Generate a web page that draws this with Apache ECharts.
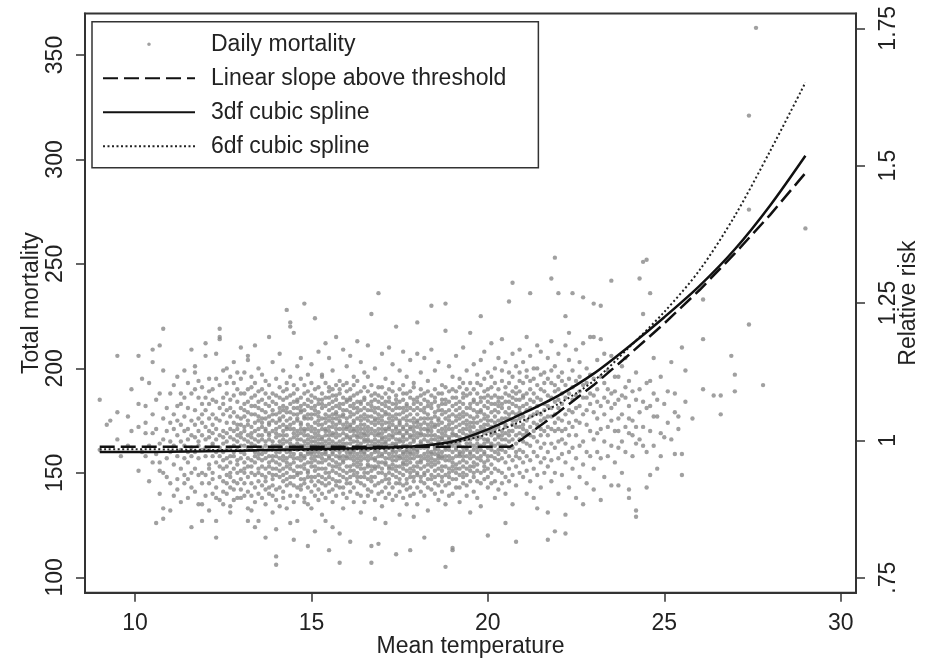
<!DOCTYPE html>
<html>
<head>
<meta charset="utf-8">
<script src="https://cdn.jsdelivr.net/npm/echarts@6/dist/echarts.min.js"></script>
<style>
html,body{margin:0;padding:0;background:#fff;}
#chart{width:926px;height:659px;}
</style>
</head>
<body>
<div id="chart"></div>
<script>
// ---- Data ----
// Daily observations grouped by mean temperature: [temperature, [daily deaths...]]
const coolDays = [
[9.0,[185,161]],[9.2,[173]],[9.3,[175]],[9.5,[206,179,166]],[9.6,[158]],[9.8,[177,163]],[9.9,[170,190]],
[10.1,[206,183,151,172]],[10.2,[160,195]],[10.3,[169,182,174,158]],[10.4,[193,163,146]],
[10.5,[209,203,155,169,178]],[10.6,[185,159,126,171]],[10.7,[211,155,151,140,164,188]],
[10.8,[219,199,150,133,128,176,166]],[10.9,[157,181,170,148]],[11.0,[188,145,132,165,174,160]],
[11.1,[171,192,154,163,139,178]],[11.2,[196,158,147,182,168,175,142]],[11.3,[188,165,152,173,136,161,183]],
[11.4,[199,145,170,157,186,163,149,177]],[11.5,[193,160,138,171,181,155,166,147]],
[11.6,[209,124,175,162,150,188,168,143,158]],[11.7,[198,201,167,152,180,141,173,160,190]],
[11.8,[176,163,149,186,157,170,135,194,165]],[11.9,[127,135,183,161,174,150,168,191,145,178]]
];
const mildDays = [
[12.0,[212,206,172,158,149,186,166,139,180,162]],[12.1,[195,170,154,183,161,145,176,167,189,152,132]],
[12.2,[185,164,140,173,158,190,150,169,178,147,163]],[12.3,[207,127,119,176,160,184,143,166,195,155,171,138]],
[12.4,[219,215,214,168,153,181,137,162,175,148,192,158]],[12.5,[141,170,186,156,164,146,178,199,152,167,183,135,160]],
[12.6,[200,174,149,161,188,140,169,157,180,145,165,193,153]],[12.7,[134,131,177,162,185,150,171,158,196,143,167,181,155,148]],
[12.8,[203,166,152,179,160,142,187,170,146,174,158,193,163,137]],[12.9,[190,173,156,168,145,184,161,177,150,198,165,138,171,154]],
[13.0,[210,138,163,176,151,188,169,157,142,181,167,195,160,147,173]],[13.1,[198,155,170,183,145,163,177,139,159,172,188,152,166,150,180]],
[13.2,[206,204,127,168,153,179,162,190,148,173,157,184,141,165,175,133]],[13.3,[132,191,164,178,150,169,186,156,145,172,161,182,139,167,196,153]],
[13.4,[211,124,174,160,187,149,166,178,155,143,170,193,158,182,163,136]],[13.5,[127,200,168,152,181,162,175,146,189,157,171,140,165,184,150,177,159]],
[13.6,[197,159,176,144,168,185,153,172,162,138,180,149,190,166,156,174]],[13.7,[119,194,170,157,183,148,165,176,142,160,188,152,171,163,135,179,146]],
[13.8,[215,182,155,169,174,143,161,186,150,177,158,166,140,192,168,153,173]],[13.9,[203,163,147,178,158,184,152,170,139,165,188,156,175,144,161,180,149,131]],
[14.0,[110,106,123,187,160,174,149,167,183,155,171,142,178,163,195,152,169,137,158]],
[14.1,[207,176,154,165,186,148,172,160,181,143,168,157,191,151,175,163,134,179,162]],
[14.2,[199,180,156,170,146,185,161,173,152,166,138,189,158,177,149,164,182,141,168]],
[14.3,[228,190,171,150,179,162,144,186,157,168,175,133,160,193,153,172,147,165,181,155]],
[14.4,[222,220,126,183,164,148,176,158,171,139,187,152,166,179,145,161,196,154,173,160]],
[14.5,[217,118,169,181,155,162,174,144,188,151,167,178,136,159,184,148,171,163,192,157]],
[14.6,[127,201,175,157,184,166,149,178,161,143,190,153,170,181,139,164,176,150,168,185]],
[14.7,[205,162,180,147,171,159,186,153,174,142,166,179,158,195,150,169,182,144,163,156,173]],
[14.8,[231,136,188,168,154,177,161,147,183,170,158,192,145,165,176,152,180,163,138,171,157]],
[14.9,[115,197,173,160,185,150,168,176,143,162,189,155,171,148,182,166,159,135,178,164,151]]
];
const temperateDays = [
[15.0,[202,181,159,170,148,176,163,187,153,167,141,193,157,172,160,184,146,178,165,155,133]],
[15.1,[224,122,186,165,151,174,160,182,144,169,178,156,190,148,163,171,139,180,158,167,153]],
[15.2,[208,177,162,149,185,168,155,173,142,191,160,166,152,179,146,183,164,137,170,158,175]],
[15.3,[196,183,164,152,171,145,188,159,176,167,140,181,155,197,162,148,173,166,157,185,130]],
[15.4,[212,170,156,178,161,147,186,165,152,174,138,182,159,168,144,193,163,176,150,171,160,127]],
[15.5,[113,205,189,166,150,177,158,183,145,170,162,191,154,175,141,168,180,157,164,148,186,172]],
[15.6,[124,199,176,160,184,153,169,147,178,163,190,156,172,142,181,165,151,174,159,187,136,168]],
[15.7,[215,187,169,155,178,146,164,182,158,173,139,192,161,176,150,167,185,153,171,144,162,179]],
[15.8,[107,121,194,174,157,183,165,149,171,160,188,143,177,154,168,181,146,163,175,158,190,152]],
[15.9,[209,180,162,148,186,171,155,177,143,166,192,158,173,151,183,164,140,169,178,156,161,133]],
[16.0,[201,172,158,184,150,167,176,145,189,162,153,180,168,138,174,160,185,147,171,157,193,164]],
[16.1,[117,206,185,166,153,177,160,148,182,170,141,190,157,173,164,151,179,167,145,186,159,172]],
[16.2,[196,178,162,187,151,170,156,174,143,165,181,158,192,149,168,175,136,161,183,154,171,160]],
[16.3,[213,168,181,155,172,146,163,188,159,176,150,167,140,184,157,170,162,179,148,194,165,153]],
[16.4,[203,184,160,175,148,167,180,154,171,139,189,158,164,177,145,169,152,183,161,173,156,131]],
[16.5,[198,173,159,186,152,166,178,144,169,157,191,162,148,176,165,181,150,171,136,160,185,168]],
[16.6,[211,189,165,150,177,161,172,142,183,156,168,175,153,196,147,163,180,158,170,139,166,154]],
[16.7,[226,115,107,180,157,169,146,184,162,174,151,187,165,141,177,159,171,153,182,163,148,192]],
[16.8,[200,176,153,166,181,148,170,160,188,144,173,156,164,179,137,168,152,185,161,175,157,128]],
[16.9,[236,116,191,168,155,178,162,145,184,171,150,165,187,158,174,140,181,160,169,153,176,163]],
[17.0,[207,183,164,150,173,159,186,146,169,177,155,162,180,141,191,166,152,175,158,171,134,167]],
[17.1,[195,171,157,184,149,167,178,160,143,188,164,154,174,138,182,161,170,147,165,179,155,126]],
[17.2,[210,186,163,152,176,168,145,181,159,172,140,190,157,166,178,150,184,162,153,171,147,174]],
[17.3,[202,177,160,189,154,170,163,143,183,158,175,167,149,193,161,180,152,168,137,173,156,164]],
[17.4,[220,111,185,166,151,178,160,172,145,187,163,156,181,139,169,176,153,164,158,183,148,171]],
[17.5,[199,174,158,181,147,169,162,190,153,175,141,166,184,157,170,150,178,161,145,173,165,130]],
[17.6,[208,188,165,152,179,160,171,144,185,157,168,176,149,163,192,154,172,159,181,138,167,155]],
[17.7,[196,180,161,147,175,166,154,183,158,170,142,188,163,151,177,160,169,145,182,156,173,135]],
[17.8,[113,204,172,159,186,150,167,178,155,164,143,181,162,171,148,189,157,175,160,139,168,152]],
[17.9,[193,183,157,170,146,176,162,185,151,168,159,174,140,180,165,153,191,161,172,148,166,129]]
];
const warmDays = [
[18.0,[222,207,175,160,149,181,167,155,172,143,186,163,158,178,150,169,135,184,161,174,153]],
[18.1,[198,171,156,183,162,148,176,165,190,152,169,141,180,158,173,164,146,187,155,168]],
[18.2,[119,205,185,163,150,174,159,168,145,181,157,171,153,188,162,139,176,166,149,179]],
[18.3,[194,178,160,170,147,184,156,165,173,151,189,162,143,176,158,168,154,182,132,171]],
[18.4,[230,209,172,155,181,164,149,176,160,187,153,168,142,174,159,183,166,147,170,157]],
[18.5,[199,186,162,151,177,168,156,173,140,184,159,166,148,190,163,172,154,179,145,161]],
[18.6,[203,175,158,182,164,149,170,155,188,161,144,176,167,152,180,159,173,137,165,157]],
[18.7,[192,180,166,153,174,160,185,148,169,157,178,141,163,188,151,171,158,183,146,167]],
[18.8,[218,105,231,170,156,183,162,149,176,165,191,153,168,144,179,158,172,135,185,161]],
[18.9,[201,184,163,152,177,167,145,173,158,189,161,171,150,180,156,166,139,175,148,164]],
[19.0,[196,114,113,178,160,186,151,169,163,147,182,157,174,140,171,155,190,165,153,168]],
[19.1,[206,183,168,154,177,161,147,189,164,172,150,180,158,168,143,175,162,186,152]],
[19.2,[195,176,159,170,149,184,163,155,178,143,167,191,158,173,152,181,165,136,160]],
[19.3,[210,188,171,156,179,162,148,183,166,174,153,193,160,169,145,177,158,186,150]],
[19.4,[199,181,164,152,175,168,144,187,158,171,161,178,149,190,166,155,139,173,162]],
[19.5,[217,193,174,160,183,151,168,177,157,188,164,146,172,159,181,153,166,131,170]],
[19.6,[202,185,167,155,176,161,190,148,172,163,180,153,169,141,184,158,174,150]],
[19.7,[197,179,162,188,154,170,166,146,183,160,174,157,193,151,168,138,177,164]],
[19.8,[225,204,186,170,158,179,163,192,150,175,167,184,156,172,145,161,180,134]],
[19.9,[208,189,173,160,182,151,169,178,164,195,155,171,186,147,166,159,176,153]],
[20.0,[198,120,184,166,152,177,170,190,158,173,162,148,181,165,156,187,143,175]],
[20.1,[212,191,175,161,183,154,168,179,164,196,150,172,158,186,145,170,163]],
[20.2,[200,187,169,177,157,183,163,193,152,174,166,146,180,160,171,138]],
[20.3,[205,182,168,190,159,175,164,184,151,172,179,156,167,142,186,161]],
[20.4,[214,194,176,163,186,170,157,181,168,199,150,174,161,183,145,166]],
[20.5,[126,203,188,172,160,179,166,191,155,176,169,184,148,163,173,140]],
[20.6,[232,198,181,165,187,158,176,170,193,152,178,162,184,146,168]],
[20.7,[241,207,189,175,162,183,170,196,156,179,166,186,149,173,135]],
[20.8,[117,201,185,168,178,158,191,172,164,182,153,175,160,188,144]],
[20.9,[209,194,179,166,185,172,157,189,169,176,161,198,150,181]]
];
const hotDays = [
[21.0,[203,187,173,160,182,168,193,155,177,165,186,148,171]],[21.1,[215,196,180,169,188,158,175,164,199,151,183,170,140]],
[21.2,[236,206,185,172,163,190,177,156,181,168,146,194]],[21.3,[200,188,174,160,184,167,195,152,178,170,138]],
[21.4,[133,211,192,179,165,186,158,173,200,149,182]],[21.5,[208,190,175,162,185,168,197,155,178,143,171]],
[21.6,[198,183,170,189,157,176,164,193,150,180]],[21.7,[131,118,205,187,172,160,182,168,195,153,177]],
[21.8,[243,213,193,177,186,164,171,199,156,181,146]],[21.9,[253,201,189,174,162,184,170,192,150,178,122]],
[22.0,[236,207,190,176,165,185,171,196,157,181,140]],[22.1,[198,183,170,188,159,175,194,149,166]],
[22.2,[225,211,192,178,164,186,171,130,121,155]],[22.3,[217,204,188,174,195,160,180,168,143]],
[22.4,[236,199,185,172,191,162,179,152]],[22.5,[209,194,181,168,187,157,175,138]],
[22.6,[203,189,174,196,163,182,148]],[22.7,[234,212,135,192,178,165,186,154]],
[22.8,[200,186,173,193,160,180,145]],[22.9,[215,197,183,170,188,158]],
[23.0,[231,215,142,195,179,166,187,152]],[23.1,[204,190,176,169,184,160]],
[23.2,[230,214,137,196,182,171,157]],[23.3,[207,193,178,186,165,148]],
[23.4,[199,184,172,190,158]],[23.5,[242,206,144,188,175,163,181]],
[23.6,[196,183,170,189,155]],[23.7,[196,170,144,185,176,162]],
[23.8,[187,201,178,165,150]],[23.9,[205,186,172,191,160]]
];
const veryHotDays = [
[24.0,[194,138,142,182,169,176]],[24.1,[168,189,175,158]],[24.2,[172,132,129,185,164,198]],
[24.3,[243,179,166,190]],[24.4,[251,226,163,184,172]],[24.5,[252,181,143,193,160]],
[24.6,[236,194,182,149,170]],[24.7,[205,163,177,188]],[24.8,[177,152,185]],[24.9,[169,196,158]],
[25.0,[183,167]],[25.1,[189,174]],[25.2,[203,166]],[25.3,[188,159,179]],[25.4,[177,171]],
[25.5,[210,159,149]],[25.6,[199,184]],[25.8,[176]],[26.1,[233,214,190]],[26.4,[187]],
[26.6,[187,178]],[26.9,[206]],[27.0,[197,189]],[27.4,[321,276,221]],[27.6,[363]],[27.8,[192]],[29.0,[267]]
];

// Fitted curves (total mortality scale)
const thresholdTemps = [9,20.63,21,22,23,24,25,26,27,28,29];
const linearThreshold = [162.5,162.5,166.5,179.0,192.0,206.5,221.5,237.5,255.0,273.5,293.5];
const splineTemps = [9,10,11,12,13,14,15,16,17,18,19,20,21,22,23,24,25,26,27,28,29];
const spline3df = [160.0,160.0,160.1,160.3,160.6,161.0,161.3,161.6,162.0,162.8,165.0,170.8,178.5,187.0,197.5,210.5,224.5,239.5,257.0,278.0,301.8];
const spline6df = [161.3,161.3,161.2,161.0,160.8,160.8,161.0,161.2,161.5,162.5,164.5,168.5,175.0,183.0,194.0,210.0,227.0,247.0,273.0,304.0,336.8];

// Axis ticks
const xTicks = [10,15,20,25,30];
const mortalityTicks = [100,150,200,250,300,350];
const rrTicks = [0.75,1,1.25,1.5,1.75];

// ---- Build chart ----
const scatterData = [];
[coolDays, mildDays, temperateDays, warmDays, hotDays, veryHotDays].forEach(group => {
  group.forEach(([t, deaths]) => deaths.forEach(d => scatterData.push([t, d])));
});
const zip = (xs, ys) => xs.map((x, i) => [x, ys[i]]);

const FONT = '"Liberation Sans", Arial, sans-serif';
const TXT = '#222';
const AX = '#333';
const hideSymbol = {opacity: 0, color: 'transparent', borderWidth: 0};

const chart = echarts.init(document.getElementById('chart'), null, {renderer: 'canvas'});
chart.setOption({
  animation: false,
  backgroundColor: '#fff',
  textStyle: {fontFamily: FONT},
  grid: {left: 85, right: 70, top: 13.5, bottom: 66.3, containLabel: false, outerBoundsMode: 'none',
    show: true, borderColor: AX, borderWidth: 2, backgroundColor: 'transparent'},
  legend: {
    orient: 'vertical',
    left: 92, top: 21.7,
    padding: [11, 32, 10, 10],
    itemGap: 11,
    itemWidth: 92, itemHeight: 14,
    borderColor: AX, borderWidth: 1.5, backgroundColor: '#fff',
    textStyle: {fontSize: 23, color: TXT, fontFamily: FONT, padding: [0, 0, 0, 11], lineHeight: 23},
    data: [
      {name: 'Daily mortality', icon: 'path://M0,0L0.01,0Z M92,14L92.01,14Z M44.2,7a1.8,1.8 0 1,0 3.6,0a1.8,1.8 0 1,0 -3.6,0Z'},
      {name: 'Linear slope above threshold', itemStyle: hideSymbol},
      {name: '3df cubic spline', itemStyle: hideSymbol},
      {name: '6df cubic spline', itemStyle: hideSymbol}
    ]
  },
  xAxis: {
    type: 'value', min: 8.583, max: 30.434,
    name: 'Mean temperature', nameLocation: 'middle', nameGap: 42.8, nameMoveOverlap: false,
    nameTextStyle: {fontSize: 23, color: TXT, fontFamily: FONT},
    axisLine: {lineStyle: {color: AX, width: 2}},
    axisTick: {show: true, length: 9, lineStyle: {color: AX, width: 1.5}, customValues: xTicks},
    axisLabel: {fontSize: 23, color: TXT, margin: 19, customValues: xTicks},
    splitLine: {show: false}
  },
  yAxis: [{
    type: 'value', min: 92.63, max: 369.86, position: 'left',
    name: 'Total mortality', nameLocation: 'middle', nameGap: 42, nameRotate: 90, nameMoveOverlap: false,
    nameTextStyle: {fontSize: 23, color: TXT, fontFamily: FONT},
    axisLine: {show: true, lineStyle: {color: AX, width: 2}},
    axisTick: {show: true, length: 9, lineStyle: {color: AX, width: 1.5}, customValues: mortalityTicks},
    axisLabel: {fontSize: 23, color: TXT, rotate: 90, margin: 18, customValues: mortalityTicks},
    splitLine: {show: false}
  }, {
    type: 'value', min: 0.7227, max: 1.7769, position: 'right',
    name: 'Relative risk', nameLocation: 'middle', nameGap: 41.5, nameRotate: 90, nameMoveOverlap: false,
    nameTextStyle: {fontSize: 23, color: TXT, fontFamily: FONT},
    axisLine: {show: true, lineStyle: {color: AX, width: 2}},
    axisTick: {show: true, length: 9, lineStyle: {color: AX, width: 1.5}, customValues: rrTicks},
    axisLabel: {fontSize: 23, color: TXT, rotate: 90, margin: 21, customValues: rrTicks,
      formatter: v => (Math.abs(v - 0.75) < 1e-9 ? '.75' : String(+v.toFixed(2)))},
    splitLine: {show: false}
  }],
  series: [{
    name: 'Daily mortality', type: 'scatter', data: scatterData,
    symbol: 'circle', symbolSize: 4.4, large: false, progressive: 0,
    itemStyle: {color: '#888888'}, emphasis: {disabled: true}, z: 1
  }, {
    name: 'Linear slope above threshold', type: 'line', data: zip(thresholdTemps, linearThreshold),
    symbol: 'none', lineStyle: {color: '#111', width: 2.5, type: [15, 6]}, z: 3
  }, {
    name: '3df cubic spline', type: 'line', data: zip(splineTemps, spline3df),
    symbol: 'none', smooth: 0.3, lineStyle: {color: '#111', width: 2.5, type: 'solid'}, z: 4
  }, {
    name: '6df cubic spline', type: 'line', data: zip(splineTemps, spline6df),
    symbol: 'none', smooth: 0.3, lineStyle: {color: '#222', width: 2, type: [2, 2.5]}, z: 2
  }]
});
</script>
</body>
</html>
